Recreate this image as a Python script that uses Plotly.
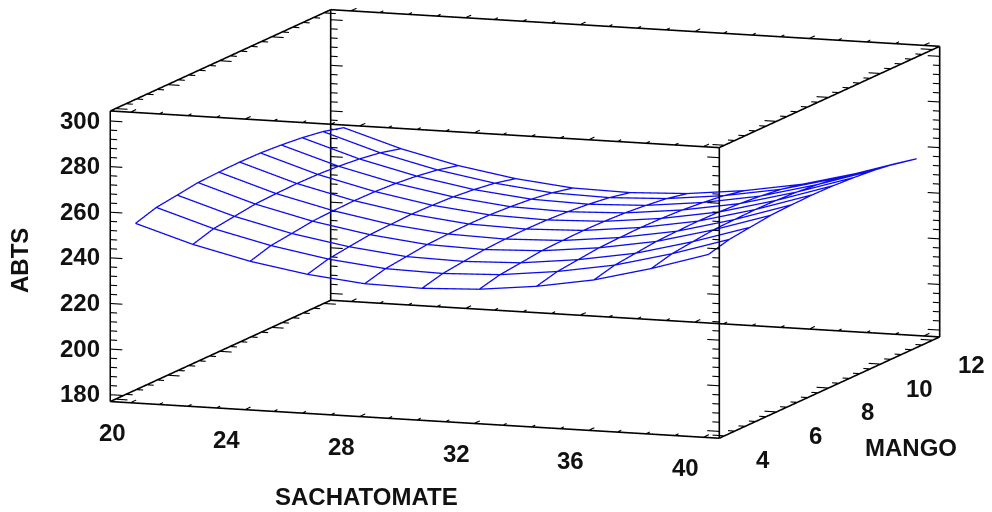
import plotly.graph_objects as go

mango = [4, 4.8, 5.6, 6.4, 7.2, 8, 8.8, 9.6, 10.4, 11.2, 12]
sachatomate = [20, 22, 24, 26, 28, 30, 32, 34, 36, 38, 40]
# one row per SACHATOMATE value, one column per MANGO value
abts = [
    [254.6, 257.4, 258.6, 259.9, 260.3, 260.5, 260.3, 259.6, 258.6, 257.1, 254.6],
    [246.9, 249.6, 250.8, 252.0, 252.4, 252.6, 252.4, 251.8, 250.8, 249.3, 246.9],
    [241.0, 243.7, 244.8, 246.0, 246.4, 246.6, 246.4, 245.8, 244.8, 243.3, 241.0],
    [236.8, 239.3, 240.5, 241.6, 241.9, 242.2, 241.9, 241.4, 240.4, 239.0, 236.8],
    [234.2, 236.6, 237.7, 238.8, 239.2, 239.4, 239.2, 238.6, 237.7, 236.3, 234.2],
    [233.7, 236.0, 237.1, 238.1, 238.5, 238.7, 238.5, 237.9, 237.0, 235.7, 233.7],
    [234.8, 237.0, 238.0, 239.1, 239.4, 239.6, 239.4, 238.9, 238.0, 236.8, 234.8],
    [237.6, 239.9, 240.9, 241.9, 242.2, 242.4, 242.2, 241.7, 240.8, 239.6, 237.6],
    [241.9, 244.2, 245.2, 246.2, 246.5, 246.7, 246.5, 246.0, 245.1, 243.9, 241.9],
    [248.4, 250.7, 251.8, 252.8, 253.1, 253.3, 253.1, 252.6, 251.7, 250.4, 248.4],
    [256.1, 258.5, 259.6, 260.7, 261.1, 261.3, 261.1, 260.5, 259.6, 258.2, 256.1],
]
x_major = [20, 24, 28, 32, 36, 40]
y_major = [4, 6, 8, 10, 12]
z_major = [180, 200, 220, 240, 260, 280, 300]
x_ticks = list(range(20, 41))
y_ticks = [4 + 0.4 * k for k in range(21)]
z_ticks = list(range(180, 301, 4))
x_box = [19.3, 40.56]
y_box = [3.8, 12.27]
z_box = [177, 304.4]
# the scene is a little larger than the drawn box, so nothing on the box is clipped
x_pad, y_pad, z_pad = 0.3, 0.4, 1.5
SCALE = 2.53

BLUE = "#0c0cf0"
FONT = dict(family="Liberation Sans", size=24, color="#111111", weight="bold")

fig = go.Figure()
for i, xv in enumerate(sachatomate):
    fig.add_trace(go.Scatter3d(x=[xv] * len(mango), y=mango, z=abts[i], mode="lines",
                               line=dict(color=BLUE, width=2.6), showlegend=False, hoverinfo="skip"))
for j, yv in enumerate(mango):
    fig.add_trace(go.Scatter3d(x=sachatomate, y=[yv] * len(sachatomate), z=[r[j] for r in abts], mode="lines",
                               line=dict(color=BLUE, width=2.6), showlegend=False, hoverinfo="skip"))

# box edges
ex, ey, ez = [], [], []
def seg(a, b):
    ex.extend([a[0], b[0], None]); ey.extend([a[1], b[1], None]); ez.extend([a[2], b[2], None])
for yb in y_box:
    for zb in z_box:
        seg((x_box[0], yb, zb), (x_box[1], yb, zb))
for xb in x_box:
    for zb in z_box:
        seg((xb, y_box[0], zb), (xb, y_box[1], zb))
for xb in x_box:
    for yb in y_box:
        seg((xb, yb, z_box[0]), (xb, yb, z_box[1]))
fig.add_trace(go.Scatter3d(x=ex, y=ey, z=ez, mode="lines", line=dict(color="black", width=3.2),
                           showlegend=False, hoverinfo="skip"))

# tick marks on every edge
ex, ey, ez = [], [], []
for xb, sgn in zip(x_box, (1, -1)):
    for yb in y_box:
        for v in z_ticks:
            ln = 0.42 if v in z_major else 0.24
            seg((xb, yb, v), (xb + sgn * ln, yb, v))
    for zb in z_box:
        for v in y_ticks:
            ln = 0.42 if min(abs(v - m) for m in y_major) < 1e-6 else 0.24
            seg((xb, v, zb), (xb + sgn * ln, v, zb))
for yb in y_box:
    for zb in z_box:
        for v in x_ticks:
            ln = 0.22 if v in x_major else 0.15
            seg((v, yb, zb), (v, yb + ln, zb))
fig.add_trace(go.Scatter3d(x=ex, y=ey, z=ez, mode="lines", line=dict(color="black", width=2.2),
                           showlegend=False, hoverinfo="skip"))

def axis(box, pad):
    return dict(range=[box[0] - pad, box[1] + pad], autorange=False, showgrid=False, zeroline=False,
                showbackground=False, showspikes=False, showline=False, ticks="", showticklabels=False,
                title=dict(text=""))

notes = []
for v in z_major:
    notes.append(dict(x=x_box[0], y=y_box[0], z=v, text=str(v), showarrow=False, xanchor="right",
                      yanchor="middle", xshift=-8, yshift=1, font=FONT))
for v in x_major:
    notes.append(dict(x=v, y=y_box[0], z=z_box[0], text=str(v), showarrow=False, xanchor="center",
                      yanchor="middle", xshift=-18, yshift=-30, font=FONT))
for v in y_major:
    notes.append(dict(x=x_box[1], y=v, z=z_box[0], text=str(v), showarrow=False, xanchor="center",
                      yanchor="middle", xshift=39, yshift=-24, font=FONT))

def grown(box, pad):
    return (box[1] - box[0] + 2 * pad) / (box[1] - box[0])

def title(px, py, text, angle=0):
    return dict(xref="paper", yref="paper", x=px / 992, y=1 - py / 512, text=text, showarrow=False,
                xanchor="center", yanchor="middle", textangle=angle, font=FONT)

fig.update_layout(
    width=992, height=512, margin=dict(l=0, r=0, t=0, b=0), paper_bgcolor="white",
    font=dict(family="Liberation Sans"),
    scene=dict(
        domain=dict(x=[0, 1], y=[0, 1]),
        xaxis=axis(x_box, x_pad), yaxis=axis(y_box, y_pad), zaxis=axis(z_box, z_pad),
        aspectmode="manual",
        aspectratio=dict(x=SCALE * grown(x_box, x_pad), y=SCALE * grown(y_box, y_pad), z=SCALE * 0.455 * grown(z_box, z_pad)),
        camera=dict(projection=dict(type="orthographic"), eye=dict(x=0.327 * 8, y=-0.9335 * 8, z=0.147 * 8),
                    up=dict(x=0, y=0, z=1), center=dict(x=-0.0772, y=-0.0278, z=-0.1587)),
        annotations=notes,
    ),
    annotations=[
        title(358, 488, "SACHATOMATE"),
        title(903, 439, "MANGO"),
        title(11, 253, "ABTS", -90),
    ],
)
fig.write_html("out.html")
